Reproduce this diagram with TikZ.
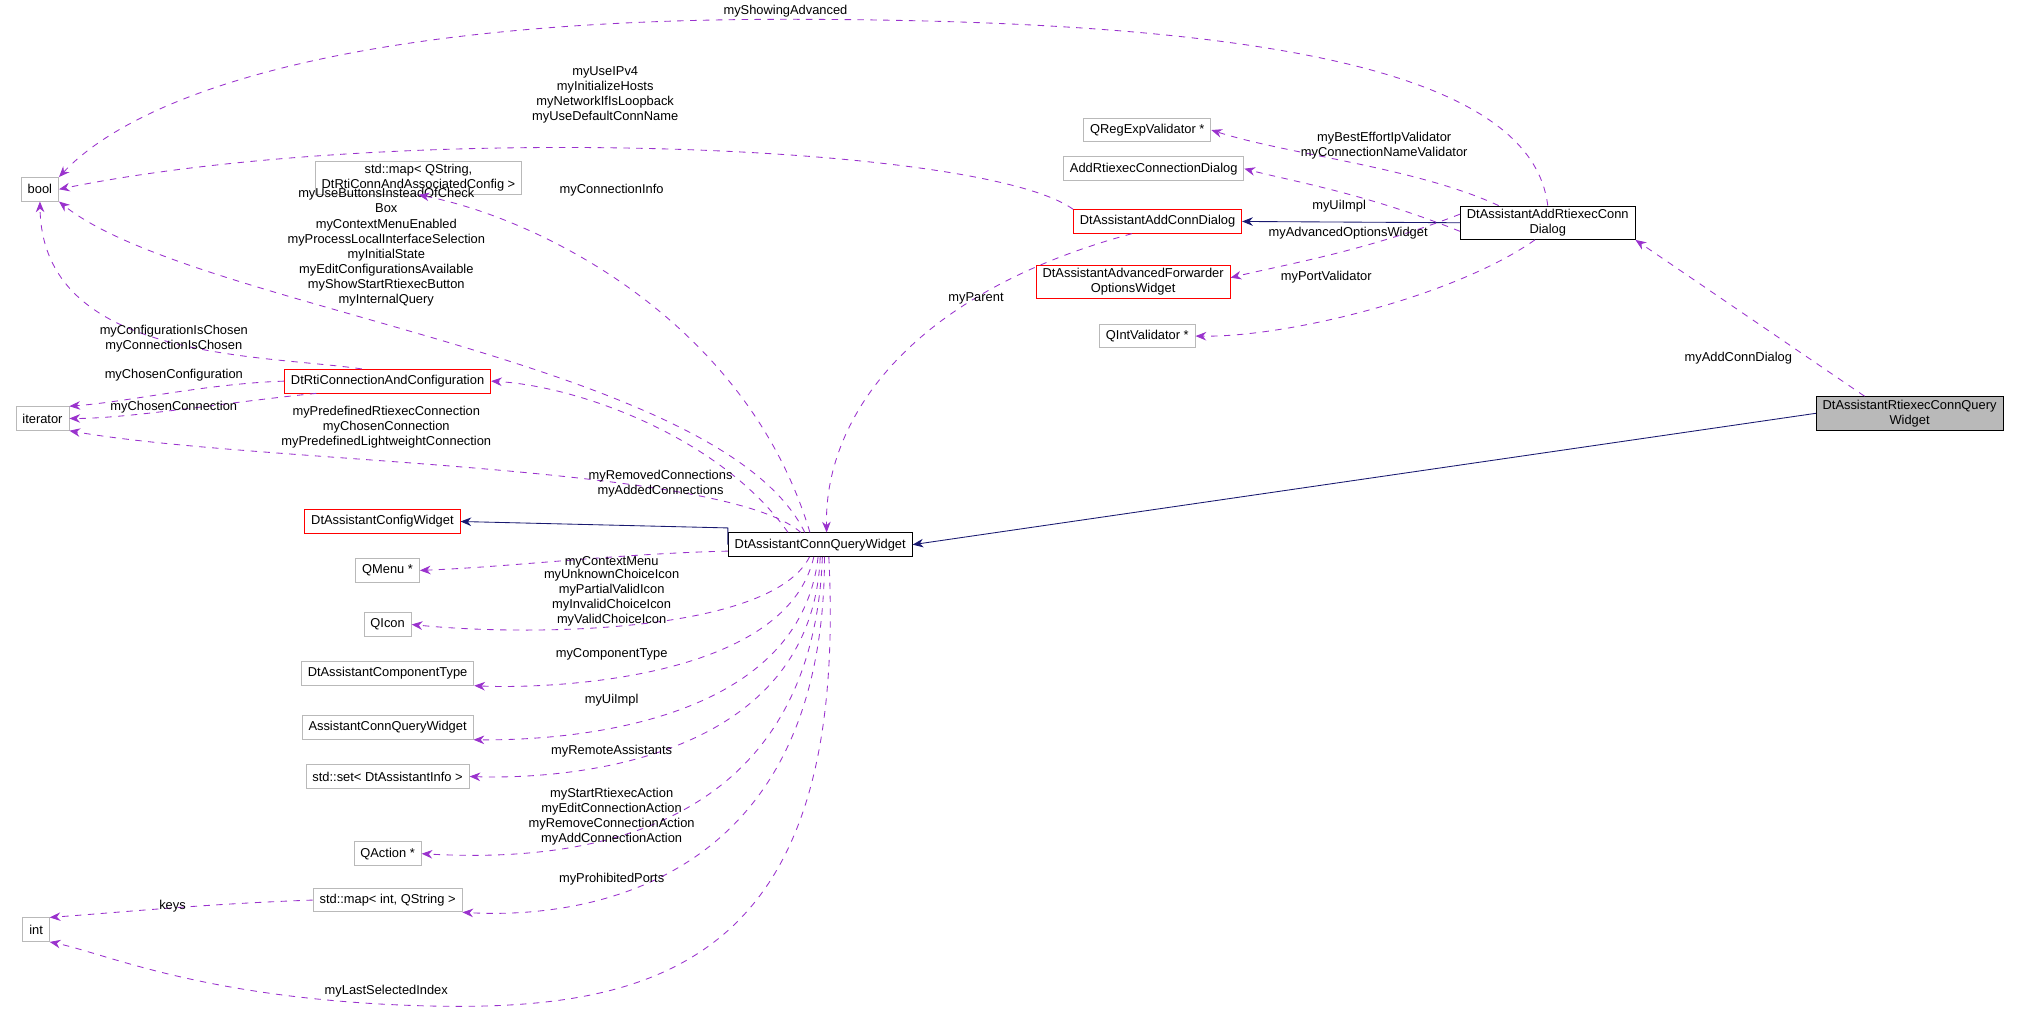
\documentclass[tikz,border=0pt]{standalone}
\usepackage{fontspec}
\setmainfont{Liberation Sans}
\usetikzlibrary{arrows.meta}
\definecolor{dep}{RGB}{154,50,205}
\definecolor{inh}{RGB}{25,25,112}
\begin{document}
\begin{tikzpicture}[x=0.6pt,y=-0.6pt,
 every node/.style={font=\fontsize{6}{7}\selectfont},
 box/.style={draw=gray!55,fill=white,inner xsep=3pt,inner ysep=1.5pt,minimum height=11pt,align=center},
 rbox/.style={box,draw=red},
 bbox/.style={box,draw=black},
 dep/.style={draw=dep,dashed,-{Stealth[length=5pt,width=4pt]}},
 inh/.style={draw=inh,-{Stealth[length=5pt,width=4pt]}},
 lab/.style={align=center,inner sep=0pt}]
\useasboundingbox (0,0) rectangle (1568,791);
% nodes
\node[box] (bool) at (31,147) {bool};
\node[box] (iter) at (33,325) {iterator};
\node[box] (int) at (28,722) {int};
\node[box] (mapqs) at (325,138) {std::map< QString,\\DtRtiConnAndAssociatedConfig >};
\node[rbox] (addconn) at (899,172) {DtAssistantAddConnDialog};
\node[rbox] (adv) at (880,219) {DtAssistantAdvancedForwarder\\OptionsWidget};
\node[box] (qreg) at (891,101) {QRegExpValidator *};
\node[box] (addrtconn) at (896,131) {AddRtiexecConnectionDialog};
\node[box] (qint) at (891,261) {QIntValidator *};
\node[bbox] (addrtd) at (1202,173) {DtAssistantAddRtiexecConn\\Dialog};
\node[bbox,fill=gray!55] (rtq) at (1483,321) {DtAssistantRtiexecConnQuery\\Widget};
\node[rbox] (rticonn) at (301,296) {DtRtiConnectionAndConfiguration};
\node[rbox] (cfgw) at (297,405) {DtAssistantConfigWidget};
\node[bbox] (cqw) at (637,423) {DtAssistantConnQueryWidget};
\node[box] (qmenu) at (301,443) {QMenu *};
\node[box] (qicon) at (301,485) {QIcon};
\node[box] (ctype) at (301,523) {DtAssistantComponentType};
\node[box] (acqw) at (301,565) {AssistantConnQueryWidget};
\node[box] (sset) at (301,603) {std::set< DtAssistantInfo >};
\node[box] (qact) at (301,663) {QAction *};
\node[box] (mapint) at (301,699) {std::map< int, QString >};
% inheritance
\draw[inh] (addrtd.west) -- (addconn.east);
\draw[inh] (rtq.west) -- (cqw.east);
\draw[inh] (cqw.west) -- ++(0,-13) -- (cfgw.east);
% dependencies
\draw[dep] (addrtd.north) .. controls (1190,60) and (1000,15) .. (610,15) .. controls (250,15) and (100,80) .. (bool.north east);
\node[lab] at (610,9) {myShowingAdvanced};
\draw[dep] (addconn.north west) .. controls (760,110) and (300,95) .. (bool.east);
\node[lab] at (470,74) {myUseIPv4\\myInitializeHosts\\myNetworkIfIsLoopback\\myUseDefaultConnName};
\draw[dep] (cqw.north) ++(-12,0) .. controls (560,280) and (150,240) .. (bool.south east);
\node[lab] at (300,192) {myUseButtonsInsteadOfCheck\\Box\\myContextMenuEnabled\\myProcessLocalInterfaceSelection\\myInitialState\\myEditConfigurationsAvailable\\myShowStartRtiexecButton\\myInternalQuery};
\draw[dep] (rticonn.north) ++(-20,0) .. controls (200,275) and (33,280) .. (bool.south);
\node[lab] at (135,263) {myConfigurationIsChosen\\myConnectionIsChosen};
\draw[dep] (rticonn.west) .. controls (160,298) and (100,312) .. (iter.north east);
\node[lab] at (135,291) {myChosenConfiguration};
\draw[dep] (rticonn.south west) ++(25,0) .. controls (180,312) and (100,325) .. (iter.east);
\node[lab] at (135,316) {myChosenConnection};
\draw[dep] (cqw.north) ++(-15,0) .. controls (560,360) and (200,360) .. (iter.south east);
\node[lab] at (300,332) {myPredefinedRtiexecConnection\\myChosenConnection\\myPredefinedLightweightConnection};
\draw[dep] (cqw.north) ++(-8,0) .. controls (580,250) and (420,170) .. (mapqs.south);
\node[lab] at (475,148) {myConnectionInfo};
\draw[dep] (cqw.north) ++(-25,0) .. controls (560,340) and (450,300) .. (rticonn.east);
\node[lab] at (513,376) {myRemovedConnections\\myAddedConnections};
\draw[dep] (addconn.south) ++(-20,0) .. controls (700,230) and (640,330) .. ([xshift=3pt]cqw.north);
\node[lab] at (758,232) {myParent};
\draw[dep] (addrtd.north west) ++(30,0) .. controls (1100,130) and (1000,120) .. (qreg.east);
\node[lab] at (1075,113) {myBestEffortIpValidator\\myConnectionNameValidator};
\draw[dep] ([yshift=-4pt]addrtd.west) .. controls (1060,150) and (1000,140) .. (addrtconn.east);
\node[lab] at (1040,160) {myUiImpl};
\draw[dep] ([yshift=4pt]addrtd.west) .. controls (1060,195) and (1000,205) .. ([yshift=2pt]adv.east);
\node[lab] at (1047,181) {myAdvancedOptionsWidget};
\draw[dep] (addrtd.south) ++(-10,0) .. controls (1130,230) and (1000,262) .. (qint.east);
\node[lab] at (1030,215) {myPortValidator};
\draw[dep] (rtq.north) ++(-35,0) -- (addrtd.south east);
\node[lab] at (1350,278) {myAddConnDialog};
\draw[dep] (cqw.west) ++(0,5) .. controls (480,430) and (400,440) .. (qmenu.east);
\node[lab] at (475,437) {myContextMenu};
\draw[dep] ([xshift=-5pt]cqw.south) .. controls (600,490) and (420,495) .. (qicon.east);
\node[lab] at (475,464) {myUnknownChoiceIcon\\myPartialValidIcon\\myInvalidChoiceIcon\\myValidChoiceIcon};
\draw[dep] ([xshift=-3pt]cqw.south) .. controls (610,530) and (420,535) .. (ctype.south east);
\node[lab] at (475,508) {myComponentType};
\draw[dep] ([xshift=-1pt]cqw.south) .. controls (620,570) and (420,575) .. (acqw.south east);
\node[lab] at (475,544) {myUiImpl};
\draw[dep] (cqw.south) .. controls (630,600) and (420,605) .. (sset.east);
\node[lab] at (475,583) {myRemoteAssistants};
\draw[dep] ([xshift=1pt]cqw.south) .. controls (630,665) and (420,668) .. (qact.east);
\node[lab] at (475,634) {myStartRtiexecAction\\myEditConnectionAction\\myRemoveConnectionAction\\myAddConnectionAction};
\draw[dep] ([xshift=2pt]cqw.south) .. controls (640,710) and (420,712) .. (mapint.south east);
\node[lab] at (475,683) {myProhibitedPorts};
\draw[dep] (mapint.west) .. controls (160,702) and (100,708) .. (int.north east);
\node[lab] at (134,704) {keys};
\draw[dep] ([xshift=4pt]cqw.south) .. controls (660,760) and (500,790) .. (300,780) .. controls (150,772) and (80,740) .. (int.south east);
\node[lab] at (300,770) {myLastSelectedIndex};
\end{tikzpicture}
\end{document}
